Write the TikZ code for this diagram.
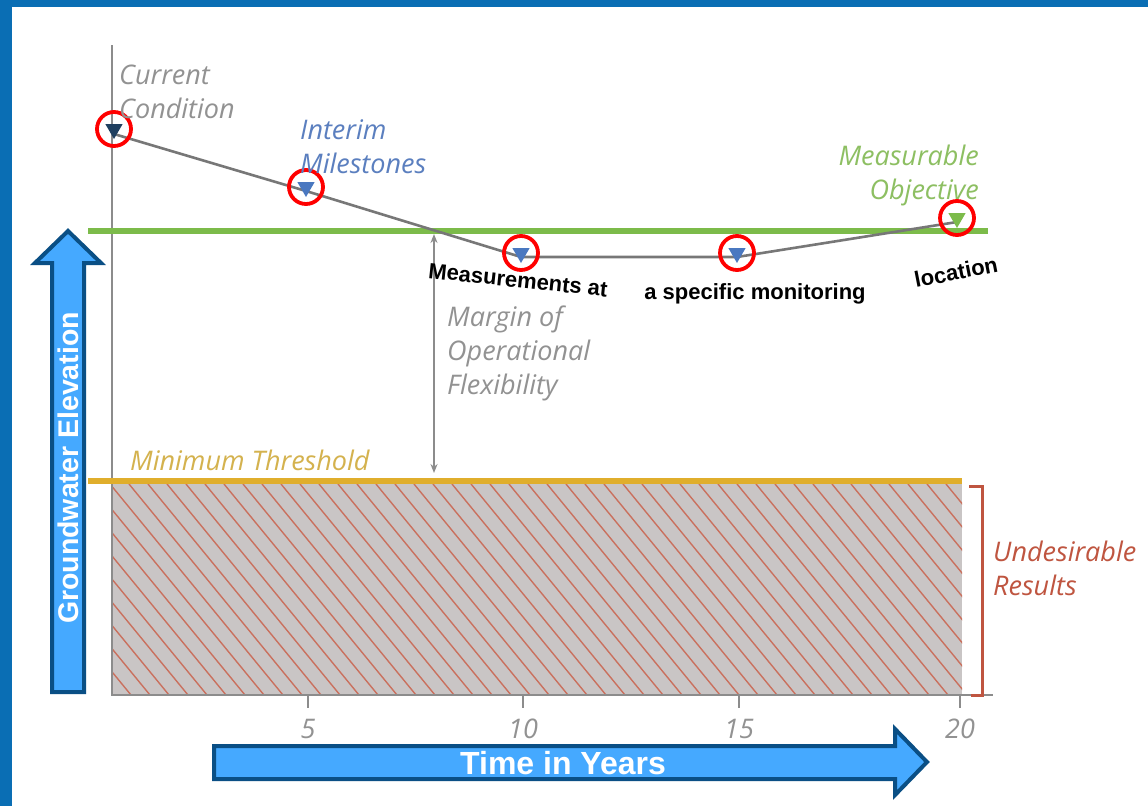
\documentclass[tikz,border=0pt]{standalone}
\usepackage{fontspec}
\setmainfont{Liberation Sans}
\newfontfamily\notefont{Open Sans}
\usetikzlibrary{shapes.geometric, arrows.meta}

\definecolor{frameblue}{HTML}{0A6EB4}
\definecolor{axisgray}{HTML}{8C8C8C}
\definecolor{notegray}{HTML}{929292}
\definecolor{objgreen}{HTML}{7CBB4A}
\definecolor{objtext}{HTML}{8DBF62}
\definecolor{mtgold}{HTML}{E0AE2C}
\definecolor{mttext}{HTML}{D4B24E}
\definecolor{urred}{HTML}{BF5540}
\definecolor{hatchfill}{HTML}{C9C5C5}
\definecolor{hatchline}{HTML}{C9705E}
\definecolor{milestone}{HTML}{4A78C0}
\definecolor{msttext}{HTML}{5B7FBF}
\definecolor{navy}{HTML}{1F3F5F}
\definecolor{arrowfill}{HTML}{45A9FF}
\definecolor{arrowline}{HTML}{0A4F85}

\begin{document}
\begin{tikzpicture}[x=1pt,y=-1pt,
		marker/.style={regular polygon, regular polygon sides=3, shape border rotate=180, inner sep=0pt, minimum size=20pt, fill=#1},
		ring/.style={circle, draw=red, line width=3.8pt, minimum size=34pt, inner sep=0pt},
		note/.style={font=\notefont\itshape\fontsize{27}{34}\selectfont, text=#1, align=left, inner sep=0pt},
		callout/.style={font=\bfseries\fontsize{22}{26}\selectfont, inner sep=0pt},
		bigarrow/.style={fill=arrowfill, draw=arrowline, line width=4pt, line join=miter},
		trend/.style={draw=axisgray!85!black, line width=2.6pt}]
	\useasboundingbox (0,0) rectangle (1148,806);
	\fill[white] (0,0) rectangle (1148,806);
	\fill[frameblue] (0,0) rectangle (12,806);
	\fill[frameblue] (0,0) rectangle (1148,7);

	% undesirable zone
	\fill[hatchfill] (112,484) rectangle (962,695);
	\begin{scope}
		\clip (112,484) rectangle (962,695);
		\foreach \k in {0,...,56}
			\draw[hatchline, line width=1.4pt] ({-80+\k*19},484) -- ++(173,211);
	\end{scope}

	% axes
	\coordinate (origin) at (112,695);
	\coordinate (ytop) at (112,45);
	\coordinate (xend) at (993,695);
	\draw[axisgray, line width=2.8pt] (ytop) -- (origin) -- (xend);
	\foreach \t/\x in {5/308,10/523,15/739,20/960} {
		\draw[axisgray, line width=2.8pt] (\x,695) -- (\x,708);
		\node[note=notegray] (tick\t) at (\x,729) {\t};
	}

	% objective and threshold
	\draw[objgreen, line width=6pt] (88,231) -- (988,231);
	\draw[mtgold, line width=6pt] (88,481) -- (962,481);

	% margin
	\coordinate (mtop) at (434,234);
	\coordinate (mbot) at (434,473);
	\draw[axisgray, line width=2pt, {Stealth[length=9pt,width=7pt]}-{Stealth[length=9pt,width=7pt]}] (mtop) -- (mbot);

	% bracket
	\draw[urred, line width=3pt] (969,486) -- (982,486) -- (982,695) -- (971,695);

	% trend
	\coordinate (p0) at (114,134);
	\coordinate (p1) at (306,191);
	\coordinate (p2) at (521,257);
	\coordinate (p3) at (737,257);
	\coordinate (p4) at (957,222);
	\draw[trend] (p0) -- (p1) -- (p2) -- (p3) -- (p4);

	\node[marker=navy] (m0) at (114,129) {};
	\node[marker=milestone] (m1) at (306,187) {};
	\node[marker=milestone] (m2) at (521,253) {};
	\node[marker=milestone] (m3) at (737,253) {};
	\node[marker=objgreen] (m4) at (957,218) {};
	\foreach \m in {0,...,4}
		\node[ring] (r\m) at (m\m) {};

	% labels
	\node[note=notegray, anchor=west] (current) at (119,92) {Current\\Condition};
	\node[note=msttext, anchor=west] (interim) at (300,147) {Interim\\Milestones};
	\node[note=objtext, anchor=east, align=right] (objective) at (979,175) {Measurable\\Objective};
	\node[note=notegray, anchor=west] (margin) at (447,353) {Margin of\\Operational\\Flexibility};
	\node[note=mttext, anchor=west] (threshold) at (130,460) {Minimum Threshold};
	\node[note=urred, anchor=west] (undesirable) at (993,568) {Undesirable\\Results};

	\node[callout, rotate=-6] (meas) at (518,280) {Measurements at};
	\node[callout] (spec) at (755,294) {a specific monitoring};
	\node[callout, rotate=11] (loc) at (956,272) {location};

	% big arrows
	\draw[bigarrow] (52,692) -- (52,263) -- (35,263) -- (68,231) -- (101,263) -- (84,263) -- (84,692) -- cycle;
	\node[font=\bfseries\fontsize{28.5}{30}\selectfont, text=white, rotate=90] (gwe) at (68,468) {Groundwater Elevation};
	\draw[bigarrow] (214,746) -- (895,746) -- (895,729) -- (927,762) -- (895,795) -- (895,779) -- (214,779) -- cycle;
	\node[font=\bfseries\fontsize{32}{34}\selectfont, text=white] (time) at (563,763) {Time in Years};
\end{tikzpicture}
\end{document}
